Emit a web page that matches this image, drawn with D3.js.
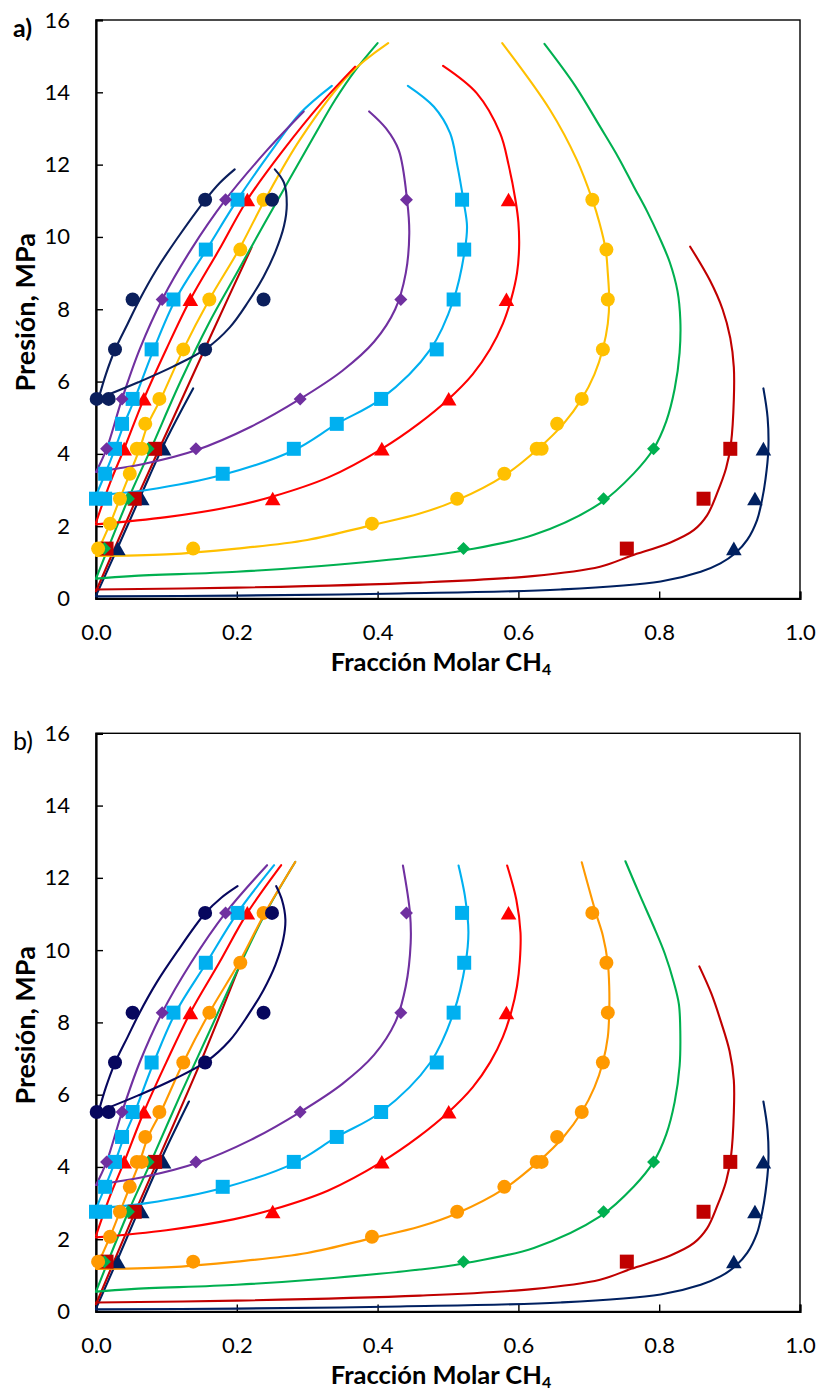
<!DOCTYPE html>
<html><head><meta charset="utf-8">
<script src="https://cdn.jsdelivr.net/npm/d3@7"></script>
<style>body{margin:0;background:#fff}svg{display:block}text{font-family:Lato,'Open Sans',sans-serif;fill:#000}</style>
</head><body><svg id="c" width="822" height="1393"></svg>
<script>
// ---------- axes / labels ----------
const xTicks = [0, 0.2, 0.4, 0.6, 0.8, 1.0];
const yTicks = [0, 2, 4, 6, 8, 10, 12, 14, 16];
const panelLabels = ["a)", "b)"];
const xTitle = "Fracción Molar CH";
const xTitleSub = "4";
const yTitle = "Presión, MPa";

// ---------- experimental points [x CH4, P MPa] ----------
const t1Bub = [[0.031,1.38],[0.065,2.76],[0.096,4.14]];
const t1Dew = [[0.906,1.38],[0.936,2.76],[0.948,4.14]];
const t2Bub = [[0.015,1.38],[0.055,2.76],[0.084,4.14]];
const t2Dew = [[0.754,1.38],[0.863,2.76],[0.901,4.14]];
const t3Bub = [[0.012,1.38],[0.046,2.76],[0.074,4.14]];
const t3Dew = [[0.522,1.38],[0.721,2.76],[0.792,4.14]];
const t4Bub = [[0.003,1.38],[0.020,2.07],[0.034,2.76],[0.048,3.45],[0.058,4.14],[0.065,4.14],[0.070,4.83],[0.090,5.52],[0.124,6.89],[0.161,8.27],[0.205,9.65],[0.238,11.03]];
const t4Dew = [[0.138,1.38],[0.392,2.07],[0.513,2.76],[0.580,3.45],[0.626,4.14],[0.633,4.14],[0.655,4.83],[0.690,5.52],[0.720,6.89],[0.727,8.27],[0.725,9.65],[0.705,11.03]];
const t5Bub = [[0.040,4.14],[0.068,5.52],[0.134,8.27],[0.215,11.03]];
const t5Dew = [[0.251,2.76],[0.406,4.14],[0.501,5.52],[0.583,8.27],[0.586,11.03]];
const t6Bub = [[0.0,2.76],[0.013,2.76],[0.013,3.45],[0.027,4.14],[0.037,4.83],[0.052,5.52],[0.079,6.89],[0.110,8.27],[0.156,9.65],[0.201,11.03]];
const t6Dew = [[0.180,3.45],[0.281,4.14],[0.342,4.83],[0.405,5.52],[0.484,6.89],[0.508,8.27],[0.523,9.65],[0.520,11.03]];
const t7Bub = [[0.015,4.14],[0.037,5.52],[0.094,8.27],[0.184,11.03]];
const t7Dew = [[0.142,4.14],[0.290,5.52],[0.433,8.27],[0.441,11.03]];
const t8Bub = [[0.001,5.52],[0.027,6.89],[0.052,8.27],[0.155,11.03]];
const t8Dew = [[0.018,5.52],[0.155,6.89],[0.238,8.27],[0.250,11.03]];

// ---------- model curves: bubble branches (panel a / panel b) ----------
const t1BubLineA = [[0,0.08],[0.033,1.5],[0.066,2.95],[0.1,4.4],[0.138,5.81]];
const t1BubLineB = [[0,0.08],[0.032,1.5],[0.064,2.95],[0.097,4.4],[0.132,5.81]];
const t2BubLineA = [[0,0.2],[0.055,2.65],[0.11,5.0],[0.165,7.35],[0.221,9.71]];
const t2BubLineB = [[0,0.2],[0.052,2.6],[0.104,4.9],[0.155,7.2],[0.205,9.62]];
const t3BubLineA = [[0,0.55],[0.046,2.76],[0.078,4.14],[0.12,6.0],[0.16,7.6],[0.2,9.0],[0.24,10.4],[0.275,11.6],[0.31,12.8],[0.34,13.8],[0.368,14.6],[0.40,15.36]];
const t3BubLineB = [[0,0.55],[0.046,2.76],[0.078,4.14],[0.12,6.0],[0.16,7.7],[0.2,9.4],[0.24,11.0],[0.283,12.44]];
const t4BubLineA = [[0,1.2],[0.02,2.07],[0.034,2.76],[0.048,3.45],[0.062,4.14],[0.074,4.83],[0.092,5.52],[0.124,6.89],[0.161,8.27],[0.203,9.65],[0.24,11.03],[0.29,12.7],[0.36,14.5],[0.415,15.36]];
const t4BubLineB = [[0,1.2],[0.02,2.07],[0.034,2.76],[0.048,3.45],[0.062,4.14],[0.074,4.83],[0.092,5.52],[0.124,6.89],[0.161,8.27],[0.203,9.65],[0.24,11.03],[0.283,12.44]];
const t5BubLineA = [[0,2.1],[0.02,3.2],[0.04,4.14],[0.068,5.52],[0.1,6.9],[0.134,8.27],[0.175,9.65],[0.215,11.03],[0.266,12.4],[0.32,13.7],[0.368,14.71]];
const t5BubLineB = [[0,2.1],[0.02,3.2],[0.04,4.14],[0.068,5.52],[0.1,6.9],[0.134,8.27],[0.175,9.65],[0.215,11.03],[0.263,12.35]];
const t6BubLineA = [[0,2.85],[0.013,3.45],[0.027,4.14],[0.04,4.83],[0.055,5.52],[0.082,6.89],[0.113,8.27],[0.157,9.65],[0.201,11.03],[0.25,12.4],[0.29,13.42],[0.335,14.18]];
const t6BubLineB = [[0,2.85],[0.013,3.45],[0.027,4.14],[0.04,4.83],[0.055,5.52],[0.082,6.89],[0.113,8.27],[0.157,9.65],[0.201,11.03],[0.253,12.35]];
const t7BubLineA = [[0,3.5],[0.015,4.14],[0.037,5.52],[0.062,6.89],[0.094,8.27],[0.135,9.65],[0.184,11.03],[0.243,12.4],[0.295,13.47]];
const t7BubLineB = [[0,3.5],[0.015,4.14],[0.037,5.52],[0.062,6.89],[0.094,8.27],[0.135,9.65],[0.184,11.03],[0.243,12.35]];
const t8BubLineA = [[0.004,5.55],[0.014,6.2],[0.027,6.88],[0.045,7.6],[0.062,8.27],[0.086,9.1],[0.115,9.95],[0.155,11.02],[0.176,11.5],[0.197,11.87]];
const t8BubLineB = [[0.004,5.55],[0.014,6.2],[0.027,6.88],[0.045,7.6],[0.062,8.27],[0.086,9.1],[0.115,9.95],[0.155,11.02],[0.178,11.45],[0.201,11.77]];

// ---------- model curves: dew branches (shared lower part + panel tops) ----------
const t1DewLow = [[0,0.06],[0.2,0.08],[0.432,0.14],[0.66,0.25],[0.802,0.47],[0.859,0.74],[0.887,0.97],[0.908,1.25],[0.925,1.62],[0.939,2.17],[0.946,2.72],[0.951,3.3],[0.955,4.1],[0.954,5.0]];
const t1DewTopA = [[0.948,5.81]];
const t1DewTopB = [[0.948,5.81]];
const t2DewLow = [[0,0.25],[0.2,0.3],[0.46,0.44],[0.62,0.62],[0.716,0.88],[0.76,1.18],[0.816,1.55],[0.849,1.89],[0.868,2.3],[0.882,2.9],[0.895,3.6],[0.902,4.3],[0.906,5.5],[0.906,6.4]];
const t2DewTopA = [[0.901,7.2],[0.89,8.0],[0.872,8.8],[0.844,9.73]];
const t2DewTopB = [[0.9,7.2],[0.888,8.0],[0.874,8.8],[0.857,9.55]];
const t3DewLow = [[0,0.55],[0.05,0.62],[0.2,0.74],[0.32,0.9],[0.46,1.16],[0.522,1.33],[0.622,1.76],[0.716,2.63],[0.764,3.46],[0.792,4.14],[0.81,4.9],[0.822,5.8],[0.829,6.8],[0.83,7.7]];
const t3DewTopA = [[0.826,8.5],[0.815,9.3],[0.8,10.0],[0.783,10.7],[0.764,11.39],[0.742,12.2],[0.716,13.05],[0.68,14.2],[0.637,15.34]];
const t3DewTopB = [[0.828,8.5],[0.821,9.09],[0.808,9.9],[0.792,10.66],[0.773,11.5],[0.752,12.46]];
const t4DewLow = [[0,1.18],[0.1,1.22],[0.2,1.38],[0.3,1.62],[0.392,2.03],[0.46,2.35],[0.513,2.72],[0.58,3.4],[0.628,4.14],[0.664,4.83],[0.69,5.52],[0.708,6.2],[0.72,6.9],[0.727,7.6]];
const t4DewTopA = [[0.729,8.27],[0.727,9.0],[0.724,9.65],[0.715,10.4],[0.705,11.03],[0.683,12.13],[0.645,13.51],[0.577,15.36]];
const t4DewTopB = [[0.729,8.27],[0.729,9.0],[0.727,9.65],[0.72,10.4],[0.71,11.03],[0.69,12.43]];
const t5DewLow = [[0,2.05],[0.1,2.25],[0.195,2.55],[0.251,2.82],[0.33,3.35],[0.406,4.14],[0.458,4.83],[0.501,5.52],[0.535,6.2],[0.56,6.9],[0.578,7.6],[0.59,8.3]];
const t5DewTopA = [[0.598,9.0],[0.601,9.7],[0.6,10.4],[0.596,11.0],[0.586,12.0],[0.574,12.87],[0.541,13.97],[0.493,14.73]];
const t5DewTopB = [[0.598,9.0],[0.602,9.7],[0.603,10.48],[0.597,11.4],[0.584,12.34]];
const t6DewLow = [[0,2.85],[0.072,3.0],[0.18,3.42],[0.281,4.1],[0.342,4.83],[0.405,5.52],[0.475,6.89],[0.508,8.27]];
const t6DewTopA = [[0.524,9.65],[0.527,10.3],[0.522,11.0],[0.513,12.0],[0.503,12.87],[0.48,13.6],[0.443,14.18]];
const t6DewTopB = [[0.525,9.65],[0.529,10.5],[0.524,11.5],[0.515,12.34]];
const t7DewLow = [[0,3.5],[0.072,3.74],[0.142,4.1],[0.22,4.75],[0.29,5.52],[0.35,6.3],[0.395,7.1],[0.425,8.0],[0.44,9.0]];
const t7DewTopA = [[0.445,10.1],[0.442,11.0],[0.43,12.4],[0.412,13.0],[0.388,13.47]];
const t7DewTopB = [[0.447,10.2],[0.446,11.03],[0.436,12.34]];
const t8DewLow = [[0.01,5.58],[0.06,5.98],[0.11,6.42],[0.157,6.92],[0.19,7.5],[0.216,8.2],[0.238,8.9],[0.255,9.6]];
const t8DewTopA = [[0.267,10.3],[0.271,10.9],[0.267,11.5],[0.254,11.87]];
const t8DewTopB = [[0.266,10.3],[0.269,10.85],[0.264,11.4],[0.256,11.77]];

// ---------- series styling ----------
const seriesMarkers = ["triangle","square","diamond","circle","triangle","square","diamond","circle"];
const colorsA = ["#002060","#C00000","#00B050","#FFC000","#FF0000","#00B0F0","#7030A0","#0B1F5C"];
const colorsB = ["#002060","#C00000","#00B050","#FF9900","#FF0000","#00B0F0","#7030A0","#07075E"];
const expBub = [t1Bub,t2Bub,t3Bub,t4Bub,t5Bub,t6Bub,t7Bub,t8Bub];
const expDew = [t1Dew,t2Dew,t3Dew,t4Dew,t5Dew,t6Dew,t7Dew,t8Dew];
const bubLinesA = [t1BubLineA,t2BubLineA,t3BubLineA,t4BubLineA,t5BubLineA,t6BubLineA,t7BubLineA,t8BubLineA];
const bubLinesB = [t1BubLineB,t2BubLineB,t3BubLineB,t4BubLineB,t5BubLineB,t6BubLineB,t7BubLineB,t8BubLineB];
const dewLow = [t1DewLow,t2DewLow,t3DewLow,t4DewLow,t5DewLow,t6DewLow,t7DewLow,t8DewLow];
const dewTopA = [t1DewTopA,t2DewTopA,t3DewTopA,t4DewTopA,t5DewTopA,t6DewTopA,t7DewTopA,t8DewTopA];
const dewTopB = [t1DewTopB,t2DewTopB,t3DewTopB,t4DewTopB,t5DewTopB,t6DewTopB,t7DewTopB,t8DewTopB];

// ---------- drawing ----------
const svg = d3.select("#c");
const plotL = 96, plotR = 800;
const panels = [
  {top:20, bot:598.5, colors:colorsA, bub:bubLinesA, dewTop:dewTopA, label:panelLabels[0], bold:true},
  {top:733.3, bot:1311.5, colors:colorsB, bub:bubLinesB, dewTop:dewTopB, label:panelLabels[1], bold:false}
];

function marker(type){
  const s = 7;
  if (type === "circle") return d3.symbol(d3.symbolCircle, Math.PI*s*s)();
  if (type === "square") return `M${-s},${-s}H${s}V${s}H${-s}Z`;
  if (type === "diamond") return `M0,-6.5L6.5,0L0,6.5L-6.5,0Z`;
  return `M0,-7L7.8,6.6L-7.8,6.6Z`;
}

panels.forEach(p => {
  const x = d3.scaleLinear().domain([0,1]).range([plotL, plotR]);
  const y = d3.scaleLinear().domain([0,16]).range([p.bot, p.top]);
  const g = svg.append("g");

  g.append("rect").attr("x",plotL).attr("y",p.top).attr("width",plotR-plotL).attr("height",p.bot-p.top)
    .attr("fill","none").attr("stroke","#000").attr("stroke-width",1.4);

  const yAxis = d3.axisLeft(y).tickValues(yTicks).tickSize(-7).tickPadding(26).tickFormat(d3.format("d"));
  const xAxis = d3.axisBottom(x).tickValues(xTicks).tickSize(-7).tickPadding(26).tickFormat(d3.format(".1f"));
  const ga = g.append("g").attr("transform",`translate(${plotL},0)`).call(yAxis);
  const gb = g.append("g").attr("transform",`translate(0,${p.bot})`).call(xAxis);
  [ga,gb].forEach(a => {
    a.select(".domain").attr("stroke","#000").attr("stroke-width",2.2);
    a.selectAll(".tick line").attr("stroke","#000").attr("stroke-width",1.4);
    a.selectAll(".tick text").style("font-size","22px").style("font-family","Lato, 'Open Sans', sans-serif").attr("fill","#000");
  });

  const line = d3.line().x(d=>x(d[0])).y(d=>y(d[1])).curve(d3.curveCatmullRom.alpha(0.5));
  const lg = g.append("g").attr("fill","none").attr("stroke-width",2.1).attr("stroke-linecap","round");
  for (let i=0;i<8;i++){
    lg.append("path").attr("d", line(p.bub[i])).attr("stroke", p.colors[i]);
    lg.append("path").attr("d", line(dewLow[i].concat(p.dewTop[i]))).attr("stroke", p.colors[i]);
  }
  const mg = g.append("g");
  for (let i=0;i<8;i++){
    expBub[i].concat(expDew[i]).forEach(d => {
      mg.append("path").attr("d", marker(seriesMarkers[i]))
        .attr("transform",`translate(${x(d[0])},${y(d[1])})`).attr("fill", p.colors[i]);
    });
  }

  const xt = g.append("text").attr("x",441).attr("y",p.bot+72.5).attr("text-anchor","middle")
    .style("font-size","25.5px").style("font-weight","bold");
  xt.append("tspan").text(xTitle);
  xt.append("tspan").text(xTitleSub).attr("dy",4).style("font-size","16px");
  g.append("text").attr("transform",`translate(35,${(p.top+p.bot)/2+3}) rotate(-90)`).attr("text-anchor","middle")
    .style("font-size","27px").style("font-weight","bold").text(yTitle);
  g.append("text").attr("x",13).attr("y",p.top+16.5).style("font-size","25px")
    .style("font-weight", p.bold ? "bold" : "normal").text(p.label);
});
</script></body></html>
